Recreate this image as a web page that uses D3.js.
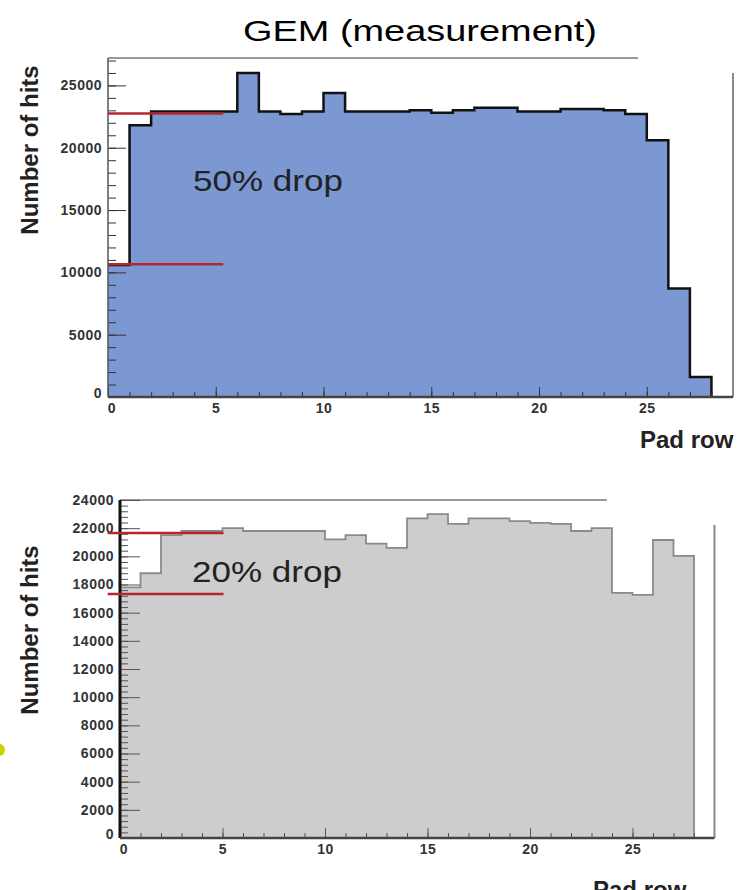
<!DOCTYPE html>
<html lang="en">
<head>
<meta charset="UTF-8">
<title>GEM (measurement)</title>
<style>
  body { margin: 0; background: #fff; }
  svg { display: block; font-family: "Liberation Sans", Arial, sans-serif; }
  .tick text { font-weight: bold; fill: #333; font-size: 14px; letter-spacing: 0.5px; }
</style>
</head>
<body>
<div id="chart"></div>
<script src="https://d3js.org/d3.v7.min.js"></script>
<script>
// pad rows 0..27, hits per row
const gemHits = [10600, 21800, 22900, 22900, 22900, 22900, 26000, 22900, 22700, 22900,
                 24400, 22900, 22900, 22900, 23000, 22800, 23000, 23200, 23200, 22900,
                 22900, 23100, 23100, 23000, 22700, 20600, 8700, 1600];
const tpcHits = [17800, 18800, 21500, 21800, 21800, 22000, 21800, 21800, 21800, 21800,
                 21200, 21500, 20900, 20600, 22700, 23000, 22300, 22700, 22700, 22500,
                 22370, 22300, 21800, 22000, 17400, 17260, 21160, 20030];

const xTicks = [0, 5, 10, 15, 20, 25];
const gemYTicks = [0, 5000, 10000, 15000, 20000, 25000];
const tpcYTicks = [0, 2000, 4000, 6000, 8000, 10000, 12000, 14000, 16000, 18000, 20000, 22000, 24000];

// red reference lines: [x from, x to, level]
const gemDrop = [[0, 5.35, 22750], [0, 5.35, 10660]];
const tpcDrop = [[-0.6, 5.05, 21660], [-0.6, 5.05, 17330]];

const W = 742, H = 890;
const svg = d3.select('#chart').append('svg').attr('width', W).attr('height', H);

svg.append('text')
  .attr('x', 243).attr('y', 41)
  .attr('font-size', 30)
  .attr('textLength', 354).attr('lengthAdjust', 'spacingAndGlyphs')
  .text('GEM (measurement)');

function histPoints(vals) {
  const pts = [[0, 0]];
  vals.forEach((v, i) => { pts.push([i, v]); pts.push([i + 1, v]); });
  pts.push([vals.length, 0]);
  return pts;
}

function panel(cfg) {
  const x = d3.scaleLinear().domain([0, 29]).range(cfg.xr);
  const y = d3.scaleLinear().domain([0, cfg.ymax]).range(cfg.yr);
  const g = svg.append('g');
  const line = d3.line().x(d => x(d[0])).y(d => y(d[1]));
  const pts = histPoints(cfg.vals);

  g.append('path').attr('d', line(pts) + 'Z').attr('fill', cfg.fill);
  g.append('path').attr('d', line(pts.slice(1)))
    .attr('fill', 'none').attr('stroke', cfg.stroke).attr('stroke-width', cfg.sw)
    .attr('stroke-linejoin', 'miter');

  // frame pieces (partially cut in the original)
  g.append('line')
    .attr('x1', x(0)).attr('x2', x(cfg.topEnd))
    .attr('y1', y(cfg.ymax)).attr('y2', y(cfg.ymax))
    .attr('stroke', '#999').attr('stroke-width', 2);
  g.append('line')
    .attr('x1', x(29)).attr('x2', x(29))
    .attr('y1', y(cfg.rightTop)).attr('y2', y(0))
    .attr('stroke', '#888').attr('stroke-width', 2);

  // minor ticks
  g.append('g').attr('transform', `translate(${x(0)},0)`)
    .call(d3.axisLeft(y).tickValues(d3.range(0, cfg.ymax + 1, cfg.yMinor)).tickSize(-8).tickFormat(''))
    .call(a => a.select('.domain').remove())
    .selectAll('line').attr('stroke', cfg.tickColor);
  g.append('g').attr('transform', `translate(0,${y(0)})`)
    .call(d3.axisBottom(x).tickValues(d3.range(0, 29)).tickSize(-5).tickFormat(''))
    .call(a => a.select('.domain').remove())
    .selectAll('line').attr('stroke', cfg.tickColor);

  // major ticks with labels
  const ya = g.append('g').attr('transform', `translate(${x(0)},0)`)
    .call(d3.axisLeft(y).tickValues(cfg.yTicks).tickSize(-cfg.yMajor).tickPadding(6).tickFormat(d3.format('d')));
  ya.select('.domain').remove();
  ya.selectAll('line').attr('stroke', cfg.tickColor);
  ya.selectAll('.tick').filter(d => d === 0).select('text').attr('dy', '0.05em');

  const xa = g.append('g').attr('transform', `translate(0,${y(0)})`)
    .call(d3.axisBottom(x).tickValues(xTicks).tickSize(-10).tickPadding(6));
  xa.select('.domain').remove();
  xa.selectAll('line').attr('stroke', cfg.tickColor);
  xa.selectAll('.tick').filter(d => d === 0).select('text').attr('dx', '0.25em');

  // axis lines
  g.append('line').attr('x1', x(0)).attr('x2', x(0)).attr('y1', y(cfg.ymax)).attr('y2', y(0))
    .attr('stroke', cfg.axisColor).attr('stroke-width', cfg.axisW);
  g.append('line').attr('x1', x(0)).attr('x2', x(29)).attr('y1', y(0)).attr('y2', y(0))
    .attr('stroke', '#444').attr('stroke-width', 2.5);

  // red drop lines
  g.selectAll('.drop').data(cfg.drop).join('line')
    .attr('x1', d => x(d[0])).attr('x2', d => x(d[1]))
    .attr('y1', d => y(d[2])).attr('y2', d => y(d[2]))
    .attr('stroke', '#b3282d').attr('stroke-width', 2.5);

  g.append('text')
    .attr('x', cfg.dropLabel[0]).attr('y', cfg.dropLabel[1])
    .attr('font-size', 30).attr('fill', '#222')
    .attr('textLength', 150).attr('lengthAdjust', 'spacingAndGlyphs')
    .text(cfg.dropText);

  g.append('text')
    .attr('transform', `translate(38,${cfg.labelY}) rotate(-90)`)
    .attr('text-anchor', 'middle')
    .attr('font-size', 24).attr('font-weight', 'bold').attr('fill', '#222')
    .text('Number of hits');

  g.append('text')
    .attr('x', cfg.padRow[0]).attr('y', cfg.padRow[1])
    .attr('font-size', 24).attr('font-weight', 'bold').attr('fill', '#222')
    .text('Pad row');
}

panel({
  vals: gemHits, xr: [108, 733], yr: [397, 58], ymax: 27200,
  yTicks: gemYTicks, yMinor: 1000, yMajor: 18,
  fill: '#7b98d2', stroke: '#111', sw: 2.5,
  tickColor: '#333', axisColor: '#555', axisW: 1.5,
  topEnd: 24.6, rightTop: 26000,
  drop: gemDrop, dropText: '50% drop', dropLabel: [193, 191],
  labelY: 150, padRow: [640, 448]
});

panel({
  vals: tpcHits, xr: [120, 714.5], yr: [838, 500], ymax: 24000,
  yTicks: tpcYTicks, yMinor: 400, yMajor: 20,
  fill: '#cdcdcd', stroke: '#8a8a8a', sw: 1.8,
  tickColor: '#555', axisColor: '#111', axisW: 3,
  topEnd: 23.75, rightTop: 22230,
  drop: tpcDrop, dropText: '20% drop', dropLabel: [192, 582],
  labelY: 630, padRow: [593, 898]
});

// stray yellow marker at the left edge
svg.append('circle').attr('cx', -1).attr('cy', 750).attr('r', 6).attr('fill', '#c6d400');
</script>
</body>
</html>
